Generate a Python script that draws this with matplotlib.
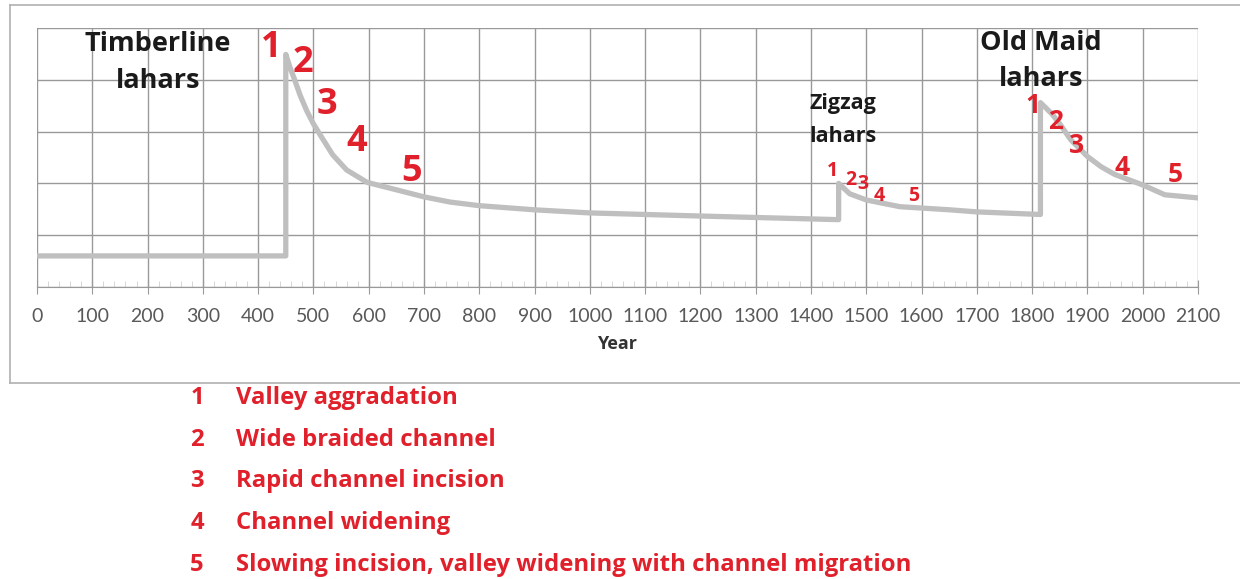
import matplotlib
matplotlib.use('Agg')
import matplotlib.pyplot as plt
from matplotlib.lines import Line2D

# ----- data -----
years = [0, 450, 450, 457, 466, 476, 488, 500, 512, 535, 560, 597, 656, 700, 747,
         800, 900, 1000, 1200, 1450, 1450, 1470, 1500, 1561, 1651, 1700, 1815,
         1815, 1835, 1850, 1870, 1900, 1925, 1950, 2000, 2040, 2100]
level = [0.6, 0.6, 4.49, 4.26, 4.0, 3.7, 3.4, 3.15, 2.94, 2.55, 2.26, 2.02, 1.86,
         1.74, 1.64, 1.57, 1.49, 1.43, 1.37, 1.30, 2.0, 1.80, 1.68, 1.55, 1.49, 1.45,
         1.40, 3.56, 3.35, 3.15, 2.84, 2.52, 2.32, 2.17, 1.97, 1.78, 1.72]

event_names = ['Timberline\nlahars', 'Zigzag\nlahars', 'Old Maid\nlahars']
event_pos = [(219, 4.33), (1457, 3.22), (1816, 4.36)]
event_size = [19.5, 15.5, 19.5]
event_spacing = [1.55, 1.75, 1.5]

stage_labels = ['1', '2', '3', '4', '5']
stage_pos = {
    'Timberline': [(423, 4.62), (481, 4.33), (524, 3.52), (579, 2.80), (678, 2.22)],
    'Zigzag': [(1439, 2.24), (1472, 2.07), (1494, 1.99), (1524, 1.76), (1586, 1.76)],
    'Old Maid': [(1801, 3.50), (1843, 3.20), (1881, 2.73), (1962, 2.30), (2058, 2.17)],
}
stage_size = {'Timberline': 26, 'Zigzag': 14, 'Old Maid': 19}

stage_desc = ['Valley aggradation', 'Wide braided channel', 'Rapid channel incision',
              'Channel widening',
              'Slowing incision, valley widening with channel migration']

W, H = 1240, 579
RED = '#e0202a'
plt.rcParams['font.family'] = ['Open Sans', 'DejaVu Sans']

fig = plt.figure(figsize=(W / 100, H / 100), dpi=100)
ax = fig.add_axes([37 / W, 1 - 287 / H, (1198 - 37) / W, (287 - 28) / H])

ax.plot(years, level, color='#bfbfbf', lw=3.8, solid_joinstyle='round', zorder=3)

ax.set_xlim(0, 2100)
ax.set_ylim(0, 5)
ax.set_xticks(range(0, 2101, 100))
ax.set_xticks(range(0, 2101, 20), minor=True)
ax.set_yticks(range(0, 6))
ax.set_yticklabels([])
ax.grid(True, which='major', color='#999999', lw=1.0)
ax.tick_params(axis='y', length=0)
ax.tick_params(axis='x', which='major', direction='inout', length=10, color='#999999',
               labelcolor='#595959', pad=10)
ax.tick_params(axis='x', which='minor', direction='in', length=4, color='#d0d0d0')
for lbl in ax.get_xticklabels():
    lbl.set_family(['Lato', 'DejaVu Sans'])
    lbl.set_fontsize(14)
for s in ['top', 'right', 'left']:
    ax.spines[s].set_visible(False)
ax.spines['bottom'].set_color('#999999')
ax.set_xlabel('Year', fontsize=13, fontweight='bold', color='#333333', labelpad=7)

for name, (x, y), fs, ls in zip(event_names, event_pos, event_size, event_spacing):
    ax.text(x, y, name, ha='center', va='center', fontsize=fs, fontweight='bold',
            color='#1a1a1a', linespacing=ls, zorder=5)

for key, pts in stage_pos.items():
    for lab, (x, y) in zip(stage_labels, pts):
        ax.text(x, y, lab, ha='center', va='center', fontsize=stage_size[key],
                fontweight='bold', color=RED, zorder=5)

# outer frame of the chart area
frame = dict(color='#b0b0b0', lw=1.2, transform=fig.transFigure)
fig.add_artist(Line2D([10 / W, 1.0], [1 - 5 / H, 1 - 5 / H], **frame))
fig.add_artist(Line2D([10 / W, 10 / W], [1 - 5 / H, 1 - 383 / H], **frame))
fig.add_artist(Line2D([10 / W, 1.0], [1 - 383 / H, 1 - 383 / H], **frame))

# legend of stages
for i, (lab, desc) in enumerate(zip(stage_labels, stage_desc)):
    yy = 1 - (398 + i * 41.7) / H
    fig.text(197 / W, yy, lab, ha='center', va='center', fontsize=17.2,
             fontweight='bold', color=RED)
    fig.text(236 / W, yy, desc, ha='left', va='center', fontsize=17.2,
             fontweight='bold', color=RED)

fig.savefig('out.png', dpi=100)
